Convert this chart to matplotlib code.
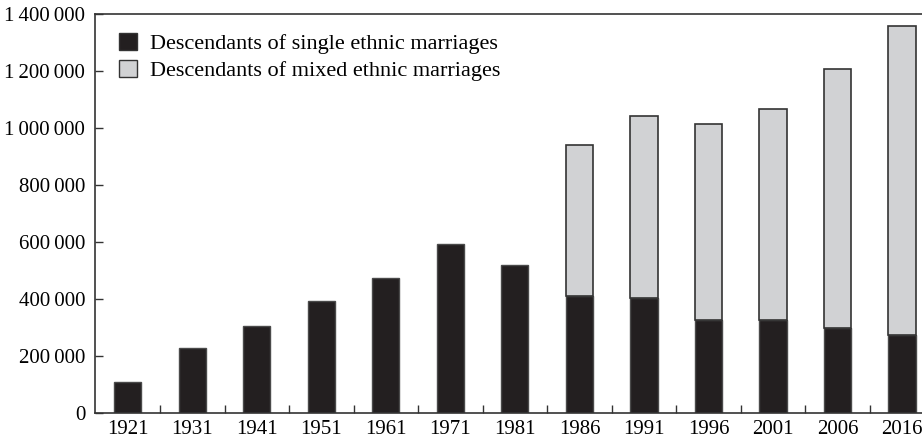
import matplotlib
matplotlib.use("Agg")
import matplotlib.pyplot as plt
import numpy as np
from matplotlib.ticker import FixedLocator, FuncFormatter

years = ["1921", "1931", "1941", "1951", "1961", "1971", "1981",
         "1986", "1991", "1996", "2001", "2006", "2016"]
single = [109000, 227000, 305000, 394000, 473000, 593000, 519000,
          410000, 405000, 326000, 326000, 298000, 274000]
total = [109000, 227000, 305000, 394000, 473000, 593000, 519000,
         941000, 1042000, 1014000, 1068000, 1206000, 1357000]
mixed = [t - s for t, s in zip(total, single)]
labels = ["Descendants of single ethnic marriages",
          "Descendants of mixed ethnic marriages"]

plt.rcParams['font.family'] = ['Liberation Serif', 'DejaVu Serif']

fig = plt.figure(figsize=(9.22, 4.40), dpi=100)
ax = fig.add_axes([95/922, 1 - 413/440, 1 - 95/922 + 0.01, (413 - 14)/440])

x = np.arange(len(years))
w = 0.42
edge = "#4a4a4a"
ax.bar(x, single, width=w, color="#231f20", edgecolor=edge, linewidth=1.0, label=labels[0])
mask = np.array([m > 0 for m in mixed])
ax.bar(x[mask], np.array(mixed)[mask], bottom=np.array(single)[mask], width=w,
       color="#d1d2d4", edgecolor="#333333", linewidth=1.2, label=labels[1])

ax.set_xlim(-0.51, 12.31 + 0.01 * 922 / 64.5)
ax.set_ylim(0, 1400000)
ax.set_xticks(x)
ax.set_xticklabels(years)
ax.xaxis.set_minor_locator(FixedLocator(x[:-1] + 0.5))
ax.tick_params(axis='x', which='major', length=0, pad=5, labelsize=15)
ax.tick_params(axis='x', which='minor', length=6, direction='in', width=1, color="#333333")
ax.set_yticks(np.arange(0, 1400001, 200000))
ax.yaxis.set_major_formatter(FuncFormatter(lambda v, p: f"{int(v):,}".replace(",", "\u2009")))
ax.tick_params(axis='y', which='major', length=6, direction='in', width=1, pad=7,
               labelsize=15, color="#333333")

for s in ['top', 'left', 'bottom']:
    ax.spines[s].set_color("#333333")
    ax.spines[s].set_linewidth(1.2)
ax.spines['right'].set_visible(False)

leg = ax.legend(loc='upper left', bbox_to_anchor=(0.018, 0.975), frameon=False,
                fontsize=16, handlelength=0.8, handleheight=0.8, handletextpad=0.6,
                labelspacing=0.25, borderaxespad=0)
for h in leg.legend_handles:
    h.set_edgecolor("#333333")
    h.set_linewidth(1.0)

fig.savefig("out.png", dpi=100)
